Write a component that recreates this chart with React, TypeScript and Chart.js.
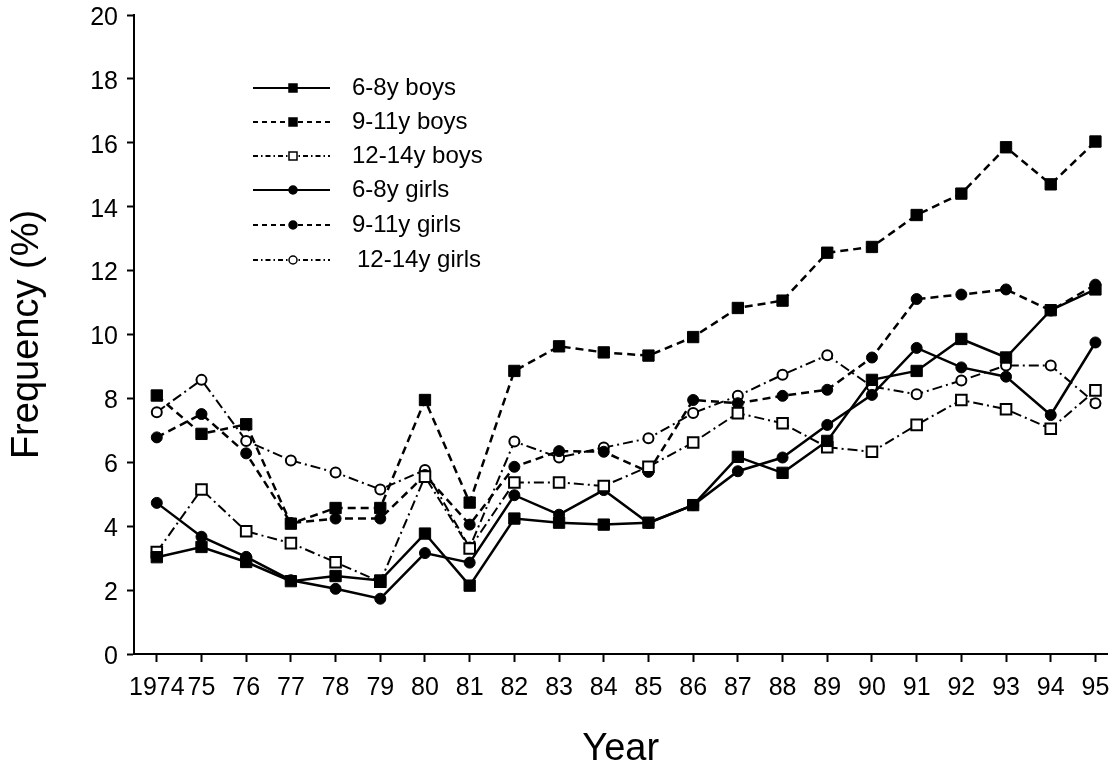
import React, { useEffect, useRef } from "react";
import { Chart, registerables } from "chart.js";

Chart.register(...registerables);

// ---- data ----
const years = [1974, 1975, 1976, 1977, 1978, 1979, 1980, 1981, 1982, 1983, 1984, 1985, 1986, 1987, 1988, 1989, 1990, 1991, 1992, 1993, 1994, 1995];
const yearTickLabels = ["1974", "75", "76", "77", "78", "79", "80", "81", "82", "83", "84", "85", "86", "87", "88", "89", "90", "91", "92", "93", "94", "95"];
const yTicks = [0, 2, 4, 6, 8, 10, 12, 14, 16, 18, 20];
const seriesNames = ["6-8y boys", "9-11y boys", "12-14y boys", "6-8y girls", "9-11y girls", "12-14y girls"];

const boys6to8 = [3.03, 3.35, 2.88, 2.28, 2.44, 2.3, 3.77, 2.14, 4.24, 4.11, 4.05, 4.11, 4.66, 6.17, 5.67, 6.67, 8.58, 8.86, 9.86, 9.28, 10.76, 11.41];
const boys9to11 = [8.09, 6.89, 7.19, 4.08, 4.57, 4.57, 7.95, 4.74, 8.86, 9.63, 9.44, 9.34, 9.92, 10.83, 11.06, 12.56, 12.74, 13.74, 14.41, 15.86, 14.7, 16.04];
const boys12to14 = [3.19, 5.15, 3.84, 3.47, 2.87, 2.26, 5.55, 3.3, 5.37, 5.37, 5.26, 5.86, 6.62, 7.54, 7.22, 6.47, 6.33, 7.17, 7.95, 7.66, 7.05, 8.25];
const girls6to8 = [4.73, 3.67, 3.04, 2.31, 2.04, 1.73, 3.16, 2.86, 4.97, 4.36, 5.13, 4.1, 4.66, 5.72, 6.15, 7.17, 8.11, 9.58, 8.97, 8.68, 7.48, 9.75];
const girls9to11 = [6.78, 7.51, 6.28, 4.1, 4.24, 4.24, 5.6, 4.05, 5.86, 6.35, 6.33, 5.7, 7.95, 7.85, 8.08, 8.27, 9.28, 11.11, 11.25, 11.41, 10.75, 11.56];
const girls12to14 = [7.57, 8.58, 6.67, 6.06, 5.68, 5.15, 5.76, 3.33, 6.65, 6.15, 6.46, 6.75, 7.54, 8.08, 8.74, 9.35, 8.37, 8.13, 8.56, 9.03, 9.03, 7.85];

const seriesValues = [boys6to8, boys9to11, boys12to14, girls6to8, girls9to11, girls12to14];

const FONT = "'Liberation Sans', Arial, Helvetica, sans-serif";

type Style = {
  dash: number[];
  legendDash: number[];
  shape: "rect" | "circle";
  filled: boolean;
  radius: number;
  width: number;
};

const styles: Style[] = [
  { dash: [], legendDash: [], shape: "rect", filled: true, radius: 8, width: 2.5 },
  { dash: [8, 5], legendDash: [5, 4], shape: "rect", filled: true, radius: 8, width: 2.5 },
  { dash: [10, 4, 2, 4], legendDash: [5, 3, 1.5, 3], shape: "rect", filled: false, radius: 7.5, width: 2 },
  { dash: [], legendDash: [], shape: "circle", filled: true, radius: 5.5, width: 2.5 },
  { dash: [8, 5], legendDash: [5, 4], shape: "circle", filled: true, radius: 5.5, width: 2.5 },
  { dash: [10, 4, 2, 4], legendDash: [5, 3, 1.5, 3], shape: "circle", filled: false, radius: 5, width: 2 },
];

export default function App() {
  const ref = useRef<HTMLCanvasElement>(null);

  useEffect(() => {
    const canvas = ref.current;
    if (!canvas) return;

    const datasets = seriesValues.map((vals, i) => {
      const st = styles[i];
      return {
        label: seriesNames[i],
        data: years.map((x, j) => ({ x, y: vals[j] })),
        borderColor: "#000",
        borderWidth: st.width,
        borderDash: st.dash,
        pointStyle: st.shape,
        pointRadius: st.radius,
        pointBackgroundColor: st.filled ? "#000" : "#fff",
        pointBorderColor: "#000",
        pointBorderWidth: st.filled ? 1 : 2,
        tension: 0,
        fill: false,
      };
    });

    const legendPlugin = {
      id: "customLegend",
      afterDraw(chart: any) {
        const c = chart.ctx as CanvasRenderingContext2D;
        const rows = [88, 122, 156, 190, 225, 260];
        c.save();
        rows.forEach((y, i) => {
          const st = styles[i];
          c.beginPath();
          c.setLineDash(st.legendDash);
          c.lineWidth = 1.8;
          c.strokeStyle = "#000";
          c.moveTo(253, y);
          c.lineTo(330, y);
          c.stroke();
          c.setLineDash([]);
          c.fillStyle = st.filled ? "#000" : "#fff";
          c.lineWidth = 1.5;
          c.beginPath();
          if (st.shape === "rect") {
            c.rect(293 - 4, y - 4, 8, 8);
          } else {
            c.arc(293, y, 4, 0, Math.PI * 2);
          }
          c.fill();
          c.stroke();
          c.fillStyle = "#000";
          c.font = `24px ${FONT}`;
          c.textAlign = "left";
          c.textBaseline = "middle";
          c.fillText(seriesNames[i], i === 5 ? 357 : 352, y);
        });
        c.restore();
      },
    };

    const chart = new Chart(canvas, {
      type: "line",
      data: { datasets: datasets as any },
      options: {
        animation: false,
        responsive: false,
        events: [],
        layout: { padding: { top: 15, right: 5, left: 0, bottom: 0 } },
        plugins: { legend: { display: false }, tooltip: { enabled: false } },
        scales: {
          x: {
            type: "linear",
            min: 1973.49,
            max: 1995.27,
            afterBuildTicks: (s: any) => {
              s.ticks = years.map((v) => ({ value: v }));
            },
            afterFit: (s: any) => {
              s.height = 118;
              s.paddingLeft = 0;
              s.paddingRight = 0;
            },
            grid: { drawOnChartArea: false, drawTicks: true, tickLength: 8, tickColor: "#000", tickWidth: 2 },
            border: { display: true, color: "#000", width: 2 },
            ticks: {
              autoSkip: false,
              maxRotation: 0,
              minRotation: 0,
              color: "#000",
              padding: 11,
              font: { family: FONT, size: 25 },
              callback: (v: any) => {
                const k = years.indexOf(Number(v));
                return k >= 0 ? yearTickLabels[k] : "";
              },
            },
            title: {
              display: true,
              text: "Year",
              color: "#000",
              font: { family: FONT, size: 38 },
              padding: { top: 0, bottom: 0 },
            },
          },
          y: {
            type: "linear",
            min: 0,
            max: 20,
            afterBuildTicks: (s: any) => {
              s.ticks = yTicks.map((v) => ({ value: v }));
            },
            afterFit: (s: any) => {
              s.width = 134;
              s.paddingTop = 0;
              s.paddingBottom = 0;
            },
            grid: { drawOnChartArea: false, drawTicks: true, tickLength: 7, tickColor: "#000", tickWidth: 2 },
            border: { display: true, color: "#000", width: 2 },
            ticks: {
              color: "#000",
              padding: 9,
              labelOffset: 3,
              font: { family: FONT, size: 25 },
              callback: (v: any) => String(v),
            },
            title: {
              display: true,
              text: "Frequency (%)",
              color: "#000",
              font: { family: FONT, size: 38 },
              padding: { top: 5, bottom: 0 },
            },
          },
        },
      },
      plugins: [legendPlugin],
    });

    return () => chart.destroy();
  }, []);

  return (
    <div style={{ position: "absolute", left: 0, top: 0, width: 1117, height: 772, background: "#fff" }}>
      <canvas ref={ref} width={1117} height={772} style={{ display: "block" }} />
    </div>
  );
}
